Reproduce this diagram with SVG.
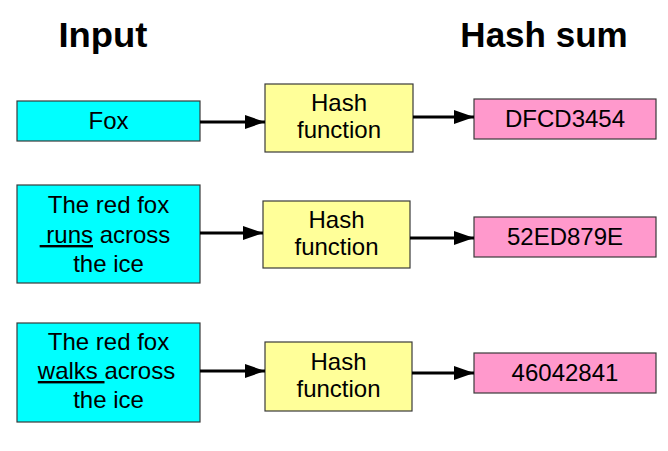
<svg xmlns="http://www.w3.org/2000/svg" width="668" height="451" viewBox="0 0 668 451">
<defs>
<style>
.box{stroke:#3a3a3a;stroke-width:1.2}
.in{fill:#00FFFF}
.fn{fill:#FFFF99}
.out{fill:#FF99CC}
.t{font-family:"Liberation Sans",Arial,sans-serif;font-size:24px;fill:#000;text-anchor:middle}
.h{font-family:"Liberation Sans",Arial,sans-serif;font-size:35px;font-weight:bold;fill:#000;text-anchor:middle}
.c{stroke:#000;stroke-width:3;fill:none}
</style>
<marker id="arr" markerWidth="20" markerHeight="14" refX="20" refY="7" orient="auto" markerUnits="userSpaceOnUse">
<path d="M0,0 L20,7 L0,14 Z" fill="#000"/>
</marker>
</defs>
<rect width="668" height="451" fill="#fff"/>
<text class="h" x="103" y="47" textLength="89" lengthAdjust="spacingAndGlyphs">Input</text>
<text class="h" x="544" y="47">Hash sum</text>
<g id="in1"><rect class="box in" x="17" y="101" width="183" height="40"/><text class="t" x="108.5" y="129">Fox</text></g>
<g id="fn1"><rect class="box fn" x="265" y="84" width="148" height="68"/><text class="t" x="339" y="111">Hash</text><text class="t" x="339" y="138">function</text></g>
<g id="out1"><rect class="box out" x="474" y="99" width="182" height="40"/><text class="t" x="565" y="127">DFCD3454</text></g>
<g id="in2"><rect class="box in" x="17" y="185" width="183" height="98"/><text class="t" x="108.5" y="213">The red fox</text><text class="t" x="105" y="243" xml:space="preserve"><tspan text-decoration="underline"> runs</tspan> across</text><text class="t" x="108.5" y="272">the ice</text></g>
<g id="fn2"><rect class="box fn" x="263" y="201" width="147" height="67"/><text class="t" x="336.5" y="228">Hash</text><text class="t" x="336.5" y="255">function</text></g>
<g id="out2"><rect class="box out" x="474" y="217" width="182" height="40"/><text class="t" x="565" y="245">52ED879E</text></g>
<g id="in3"><rect class="box in" x="17" y="323" width="183" height="99"/><text class="t" x="108.5" y="350">The red fox</text><text class="t" x="106.5" y="379" xml:space="preserve"><tspan text-decoration="underline">walks </tspan>across</text><text class="t" x="108.5" y="408">the ice</text></g>
<g id="fn3"><rect class="box fn" x="265" y="342" width="147" height="69"/><text class="t" x="338.5" y="370">Hash</text><text class="t" x="338.5" y="397">function</text></g>
<g id="out3"><rect class="box out" x="474" y="353" width="182" height="40"/><text class="t" x="565" y="381">46042841</text></g>
<g id="connectors">
<line class="c" x1="200" y1="122" x2="265" y2="122" marker-end="url(#arr)"/>
<line class="c" x1="413" y1="117" x2="474" y2="117" marker-end="url(#arr)"/>
<line class="c" x1="200" y1="233" x2="263" y2="233" marker-end="url(#arr)"/>
<line class="c" x1="410" y1="238" x2="474" y2="238" marker-end="url(#arr)"/>
<line class="c" x1="200" y1="371" x2="265" y2="371" marker-end="url(#arr)"/>
<line class="c" x1="412" y1="373" x2="474" y2="373" marker-end="url(#arr)"/>
</g>
</svg>
